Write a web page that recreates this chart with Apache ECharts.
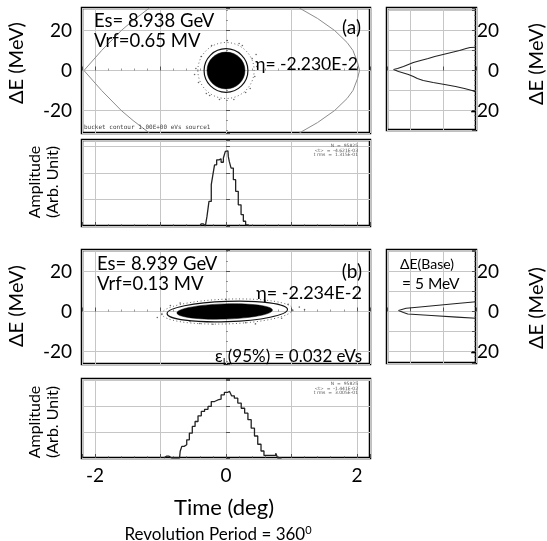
<!DOCTYPE html>
<html><head><meta charset="utf-8">
<script src="https://cdn.jsdelivr.net/npm/echarts@6/dist/echarts.min.js"></script>
<style>html,body{margin:0;padding:0;background:#fff}#c{width:547px;height:541px}</style>
</head><body><div id="c"></div>
<script>
// ---------------- data ----------------
const timeTicks = [-2, 0, 2];
const dETicks = [-20, 0, 20];

// bucket separatrix, panel (a)
const sepLeftT  = [-1.17, -1.42, -1.6, -1.9, -2.17, -1.9, -1.6, -1.42, -1.17];
const sepLeftE  = [-31.25, -25, -20, -10, 0, 10, 20, 25, 31.25];
const sepRightT = [1.12, 1.4, 1.66, 1.85, 1.94, 2.01, 2.04, 2.01, 1.94, 1.85, 1.66, 1.4, 1.12];
const sepRightE = [-31.25, -26, -20, -14, -10, -4, 0, 4, 10, 14, 20, 26, 31.25];

// bunch (a): layers halo / ring / core  [t, dE, half-width(deg), half-height(MeV), kind, tilt]
const bunchA_T    = [0, 0, 0];
const bunchA_E    = [0, 0, 0];
const bunchA_rT   = [0.43, 0.335, 0.29];
const bunchA_rE   = [14.0, 10.9, 9.2];
const bunchA_kind = [2, 1, 0];
const bunchA_tilt = [0, 0, 0];
const haloA_T = [0.40, 0.44, 0.37, 0.20, 0.02, -0.22, -0.38, -0.46, -0.42, -0.30, -0.10, 0.12, 0.30, 0.47, 0.25, -0.25, -0.48, 0.46];
const haloA_E = [6, -3, -9, 13.5, 15, 12.5, 7, 1, -6, -11.5, -14.5, -14.5, -11, 2, 12.5, -12.5, -2, 8];

// bunch (b)
const bunchB_T    = [0.02, 0.02, -0.02];
const bunchB_E    = [0, 0, 0];
const bunchB_rT   = [1.0, 0.92, 0.73];
const bunchB_rE   = [6.2, 5.1, 3.8];
const bunchB_kind = [2, 1, 0];
const bunchB_tilt = [0.035, 0.035, 0.03];
const haloB_T = [1.02, 1.12, 1.2, -0.98, -1.05, 0.6, -0.4, 0.3, -0.7, 0.85, 0.0, -0.2, 0.45, -0.55, 0.95, -0.85];
const haloB_E = [0.5, 2.2, 1.0, -1.5, -3.0, 5.2, -6.0, -5.6, 4.2, -3.4, 6.0, -6.4, -6.2, -5.0, 3.6, 3.0];

// energy projection (a) / (b): amplitude vs dE
const histA_E = [11.6, 11.5, 11, 10, 9, 8, 7, 6, 5, 4, 3, 2, 1, 0.5, 0, -0.5, -1, -2, -3, -4, -5, -6, -7, -8, -9, -10, -10.7];
const histA_A = [0, 0.18, 0.3, 0.5, 0.75, 1.0, 1.25, 1.45, 1.68, 1.9, 2.05, 2.2, 2.38, 2.5, 2.48, 2.35, 2.25, 2.05, 1.9, 1.78, 1.6, 1.3, 0.95, 0.62, 0.35, 0.12, 0];
const histB_E = [4.9, 4, 3, 2, 1.6, 1, 0.5, 0.25, 0, -0.5, -1.25, -2, -2.8, -3.4];
const histB_A = [0, 0.58, 1.22, 1.86, 2.12, 2.25, 2.35, 2.4, 2.35, 2.2, 2.07, 1.35, 0.58, 0];

// time profiles (a) / (b)
const profA_T = [-0.40, -0.36, -0.33, -0.30, -0.28, -0.24, -0.21, -0.19, -0.16, -0.125, -0.09, -0.06, -0.02, 0.0, 0.03, 0.04, 0.06, 0.095, 0.13, 0.165, 0.21, 0.25, 0.28, 0.32, 0.36];
const profA_A = [0, 0.08, 0.08, 0, 0.37, 0.93, 1.56, 1.94, 2.31, 2.50, 2.54, 2.41, 2.57, 2.82, 2.84, 2.63, 2.44, 2.19, 1.75, 1.31, 0.80, 0.43, 0.18, 0.04, 0];
const profB_T = [-0.95, -0.91, -0.87, -0.83, -0.71, -0.69, -0.66, -0.62, -0.58, -0.54, -0.49, -0.455, -0.40, -0.355, -0.30, -0.25, -0.20, -0.15, -0.10, -0.05, 0.0, 0.04, 0.07, 0.10, 0.155, 0.205, 0.26, 0.31, 0.36, 0.41, 0.46, 0.51, 0.56, 0.60, 0.64, 0.70, 0.74, 0.78, 0.80, 0.85];
const profB_A = [0, 0.07, 0.07, 0, 0, 0.26, 0.45, 0.51, 0.70, 0.96, 1.22, 1.41, 1.63, 1.80, 1.88, 1.99, 2.18, 2.24, 2.27, 2.44, 2.53, 2.57, 2.63, 2.40, 2.31, 2.12, 1.92, 1.73, 1.48, 1.15, 0.85, 0.53, 0.27, 0.10, 0.10, 0.10, 0.10, 0.18, 0, 0];

// ---------------- chart ----------------
const FONT = 'Lato';
const zip = (a, b) => a.map((v, i) => [v, b[i]]);
const layers = (T, E, rT, rE, K, R) => T.map((v, i) => [v, E[i], rT[i], rE[i], K[i], R[i]]);

const chart = echarts.init(document.getElementById('c'), null, {renderer: 'canvas', width: 547, height: 541});

const grids = [
  {left: 82,  top: 8,   width: 288, height: 125},
  {left: 387, top: 8,   width: 89,  height: 122},
  {left: 82,  top: 140, width: 288, height: 86},
  {left: 82,  top: 250, width: 288, height: 114},
  {left: 387, top: 250, width: 89,  height: 113},
  {left: 82,  top: 379, width: 288, height: 79}
].map(g => Object.assign({show: true, borderColor: '#000', borderWidth: 2.5, backgroundColor: 'transparent', containLabel: false}, g));

const gridLine = {show: true, lineStyle: {color: '#c6c6c6', width: 1}};
const tick = {show: true, inside: true, length: 4, lineStyle: {color: '#333', width: 0.8}};
const minor = {show: true, splitNumber: 5, length: 2, lineStyle: {color: '#555', width: 0.6}};
const labelStyle = {fontFamily: FONT, fontSize: 19, color: '#000'};

function timeAxis(gi, showLabels) {
  return {type: 'value', gridIndex: gi, min: -2.2, max: 2.2, splitNumber: 5,
    axisLine: {show: false}, axisTick: tick, minorTick: minor, splitLine: gridLine,
    axisLabel: showLabels ? Object.assign({show: true, margin: 8,
      formatter: v => timeTicks.indexOf(Math.round(v * 1000) / 1000) >= 0 ? String(Math.round(v)) : ''}, labelStyle) : {show: false}};
}
function energyAxis(gi, min, max, right, split) {
  return {type: 'value', gridIndex: gi, min: min, max: max, splitNumber: split, position: right ? 'right' : 'left',
    axisLine: {show: false}, axisTick: tick, minorTick: Object.assign({}, minor, {splitNumber: 4}), splitLine: gridLine,
    axisLabel: Object.assign({show: true, margin: right ? 23 : 10, align: 'right',
      formatter: v => dETicks.indexOf(Math.round(v * 1000) / 1000) >= 0 ? String(Math.round(v)) : ''}, labelStyle)};
}
function ampAxisY(gi, max) {
  return {type: 'value', gridIndex: gi, min: 0, max: max, interval: 1,
    axisLine: {show: false}, axisTick: tick, splitLine: gridLine, axisLabel: {show: false}};
}
function ampAxisX(gi) {
  return {type: 'value', gridIndex: gi, min: 0, max: 2.7, interval: 1, inverse: true,
    axisLine: {show: false}, axisTick: tick, splitLine: gridLine, axisLabel: {show: false}};
}

function ellipseItem(params, api) {
  const c = api.coord([api.value(0), api.value(1)]);
  const s = api.size([api.value(2), api.value(3)]);
  const kind = api.value(4);
  const tilt = api.value(5) || 0;
  let style;
  if (kind === 0) style = {fill: '#000', stroke: '#000', lineWidth: 0.5};
  else if (kind === 1) style = {fill: 'none', stroke: '#111', lineWidth: 1.2};
  else style = {fill: 'none', stroke: '#555', lineWidth: 0.9, lineDash: [1, 2.5]};
  return {type: 'ellipse', shape: {cx: c[0], cy: c[1], rx: s[0], ry: s[1]},
    rotation: tilt, originX: c[0], originY: c[1], style: style};
}

const lineBase = {type: 'line', showSymbol: false, symbol: 'none', animation: false, silent: true};

const option = {
  animation: false,
  grid: grids,
  xAxis: [timeAxis(0, false), ampAxisX(1), timeAxis(2, false), timeAxis(3, false), ampAxisX(4), timeAxis(5, true)],
  yAxis: [energyAxis(0, -31.25, 31.25, false, 3), energyAxis(1, -29.75, 31.25, true, 6), ampAxisY(2, 3.25),
          energyAxis(3, -26.25, 30.75, false, 3), energyAxis(4, -25.75, 30.75, true, 6), ampAxisY(5, 3.05)],
  series: [
    Object.assign({}, lineBase, {xAxisIndex: 0, yAxisIndex: 0, data: zip(sepLeftT, sepLeftE), lineStyle: {color: '#8c8c8c', width: 1}}),
    Object.assign({}, lineBase, {xAxisIndex: 0, yAxisIndex: 0, data: zip(sepRightT, sepRightE), lineStyle: {color: '#8c8c8c', width: 1}}),
    {type: 'custom', xAxisIndex: 0, yAxisIndex: 0, renderItem: ellipseItem, clip: true, silent: true,
     data: layers(bunchA_T, bunchA_E, bunchA_rT, bunchA_rE, bunchA_kind, bunchA_tilt)},
    {type: 'scatter', xAxisIndex: 0, yAxisIndex: 0, symbolSize: 1.6, itemStyle: {color: '#444'}, silent: true, data: zip(haloA_T, haloA_E)},
    Object.assign({}, lineBase, {xAxisIndex: 1, yAxisIndex: 1, data: zip(histA_A, histA_E), lineStyle: {color: '#222', width: 1.1}}),
    Object.assign({}, lineBase, {xAxisIndex: 2, yAxisIndex: 2, step: 'middle', data: zip(profA_T, profA_A), lineStyle: {color: '#222', width: 1.3}}),
    {type: 'custom', xAxisIndex: 3, yAxisIndex: 3, renderItem: ellipseItem, clip: true, silent: true,
     data: layers(bunchB_T, bunchB_E, bunchB_rT, bunchB_rE, bunchB_kind, bunchB_tilt)},
    {type: 'scatter', xAxisIndex: 3, yAxisIndex: 3, symbolSize: 1.6, itemStyle: {color: '#444'}, silent: true, data: zip(haloB_T, haloB_E)},
    Object.assign({}, lineBase, {xAxisIndex: 4, yAxisIndex: 4, data: zip(histB_A, histB_E), lineStyle: {color: '#222', width: 1.1}}),
    Object.assign({}, lineBase, {xAxisIndex: 5, yAxisIndex: 5, step: 'middle', data: zip(profB_T, profB_A), lineStyle: {color: '#222', width: 1.3}})
  ],
  graphic: {elements: []}
};

function txt(x, y, text, size, align, extra) {
  return Object.assign({type: 'text', x: x, y: y, silent: true, z: 100,
    style: {text: text, font: size + 'px ' + FONT, fontSize: size, fontFamily: FONT, fill: '#000',
      textAlign: align || 'left', align: align || 'left', textVerticalAlign: 'middle', verticalAlign: 'middle'}}, extra || {});
}
const G = option.graphic.elements;
// panel (a)
G.push(txt(94, 21, 'Es= 8.938 GeV', 18.5));
G.push(txt(94, 41, 'Vrf=0.65 MV', 18.5));
G.push(txt(361, 28, '(a)', 19, 'right'));
G.push(txt(358, 64, 'η= -2.230E-2', 17.5, 'right'));
G.push(txt(84, 127, 'bucket contour 1.00E+00 eVs source1', 6, 'left'));
G[G.length - 1].style.font = '6px DejaVu Sans Mono'; G[G.length - 1].style.fontFamily = 'DejaVu Sans Mono'; G[G.length - 1].style.fill = '#444';
// panel (b)
G.push(txt(97, 264, 'Es= 8.939 GeV', 18.5));
G.push(txt(97, 284, 'Vrf=0.13 MV', 18.5));
G.push(txt(362, 272, '(b)', 19, 'right'));
G.push(txt(362, 293, 'η= -2.234E-2', 18, 'right'));
G.push({type: 'text', x: 362, y: 357, z: 100, silent: true,
  style: {text: '{e|ε}{s|L}{e|(95%) = 0.032 eVs}', textAlign: 'right', align: 'right', textVerticalAlign: 'middle', verticalAlign: 'middle',
    rich: {e: {fontFamily: FONT, fontSize: 17, fill: '#000', color: '#000', lineHeight: 20},
           s: {fontFamily: FONT, fontSize: 10, fill: '#000', color: '#000', verticalAlign: 'bottom', lineHeight: 20}}}});
G.push(txt(400, 264, 'ΔE(Base)', 14));
G.push(txt(402, 284, '= 5 MeV', 15.5));
// stats boxes (tiny)
const statStyle = (x, y, t) => ({type: 'text', x: x, y: y, z: 100, silent: true,
  style: {text: t, font: '4.5px DejaVu Sans', fill: '#555', textAlign: 'right', align: 'right', lineHeight: 4.5}});
G.push(statStyle(358, 144, 'N  =  95825\n<t>  =  -4.621E-03\nt rms  =  1.315E-01'));
G.push(statStyle(358, 382, 'N  =  95825\n<t>  =  -1.441E-02\nt rms  =  3.005E-01'));
// axis titles
const rot = {rotation: Math.PI / 2};
G.push(txt(17, 63, 'ΔE (MeV)', 20, 'center', rot));
G.push(txt(17, 306, 'ΔE (MeV)', 20, 'center', rot));
G.push(txt(537, 64, 'ΔE (MeV)', 20, 'center', rot));
G.push(txt(537, 308, 'ΔE (MeV)', 20, 'center', rot));
G.push(txt(35, 182, 'Amplitude', 16, 'center', rot));
G.push(txt(53, 182, '(Arb. Unit)', 16, 'center', rot));
G.push(txt(35, 422, 'Amplitude', 16, 'center', rot));
G.push(txt(53, 422, '(Arb. Unit)', 16, 'center', rot));
G.push(txt(224, 508, 'Time (deg)', 22, 'center'));
G.push({type: 'text', x: 218, y: 535, z: 100, silent: true,
  style: {text: '{a|Revolution Period = 360}{s|0}', textAlign: 'center', align: 'center', textVerticalAlign: 'middle', verticalAlign: 'middle',
    rich: {a: {fontFamily: FONT, fontSize: 17, fill: '#000', color: '#000', lineHeight: 20},
           s: {fontFamily: FONT, fontSize: 11, fill: '#000', color: '#000', verticalAlign: 'top'}}}});

chart.setOption(option);
</script>
</body></html>
